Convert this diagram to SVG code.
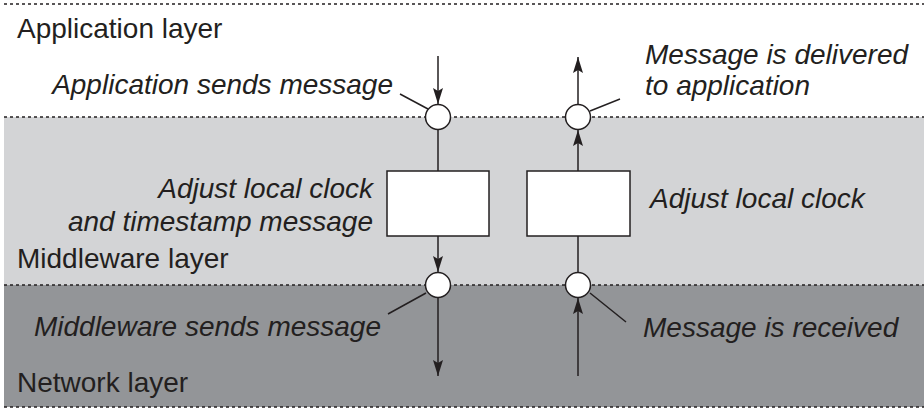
<svg xmlns="http://www.w3.org/2000/svg" width="924" height="412" viewBox="0 0 924 412">
<style>
.lbl{font-family:"Liberation Sans",Arial,sans-serif;font-size:28px;fill:#231f20}
.it{font-style:italic}
.dash{stroke:#231f20;stroke-width:1.5;stroke-dasharray:3 3;fill:none}
.ln{stroke:#231f20;stroke-width:1.5;fill:none}
.box{fill:#fff;stroke:#231f20;stroke-width:1.5}
.circ{fill:#fff;stroke:#231f20;stroke-width:1.5}
</style>
<defs>
<marker id="ah" viewBox="0 0 16 10" refX="16" refY="5" markerWidth="16" markerHeight="10" markerUnits="userSpaceOnUse" orient="auto">
<path d="M0,0 L16,5 L0,10 L3,5 z" fill="#231f20"/>
</marker>
</defs>
<rect width="924" height="412" fill="#fff"/>
<g id="bands">
<rect x="4" y="117" width="920" height="168" fill="#d3d4d6"/>
<rect x="4" y="285" width="920" height="122" fill="#939598"/>
<line class="dash" x1="4" y1="4" x2="924" y2="4"/>
<line class="dash" x1="4" y1="117" x2="924" y2="117"/>
<line class="dash" x1="4" y1="285" x2="924" y2="285"/>
<line class="dash" x1="4" y1="407" x2="924" y2="407"/>
</g>
<g id="layer-labels">
<text class="lbl" x="17" y="38">Application layer</text>
<text class="lbl" x="17" y="268">Middleware layer</text>
<text class="lbl" x="17" y="392">Network layer</text>
</g>
<g id="connectors">
<line class="ln" x1="438" y1="56" x2="438" y2="104" marker-end="url(#ah)"/>
<line class="ln" x1="438" y1="130" x2="438" y2="171"/>
<line class="ln" x1="438" y1="236" x2="438" y2="272" marker-end="url(#ah)"/>
<line class="ln" x1="438" y1="298" x2="438" y2="376" marker-end="url(#ah)"/>
<line class="ln" x1="578" y1="376" x2="578" y2="298" marker-end="url(#ah)"/>
<line class="ln" x1="578" y1="272" x2="578" y2="236"/>
<line class="ln" x1="578" y1="171" x2="578" y2="130" marker-end="url(#ah)"/>
<line class="ln" x1="578" y1="104" x2="578" y2="57" marker-end="url(#ah)"/>
<line class="ln" x1="400" y1="94" x2="428" y2="109"/>
<line class="ln" x1="590" y1="111" x2="620" y2="99"/>
<line class="ln" x1="426" y1="293" x2="388" y2="314"/>
<line class="ln" x1="590" y1="293" x2="626" y2="322"/>
</g>
<g id="send-app-point">
<circle class="circ" cx="438" cy="117" r="12.5"/>
<text class="lbl it" x="393" y="94" text-anchor="end">Application sends message</text>
</g>
<g id="deliver-app-point">
<circle class="circ" cx="578" cy="117" r="12.5"/>
<text class="lbl it" x="645" y="64">Message is delivered</text>
<text class="lbl it" x="645" y="95">to application</text>
</g>
<g id="send-box">
<rect class="box" x="387" y="171" width="102" height="65"/>
<text class="lbl it" x="373" y="198" text-anchor="end">Adjust local clock</text>
<text class="lbl it" x="373" y="231" text-anchor="end">and timestamp message</text>
</g>
<g id="recv-box">
<rect class="box" x="527" y="171" width="103" height="65"/>
<text class="lbl it" x="650" y="208">Adjust local clock</text>
</g>
<g id="send-net-point">
<circle class="circ" cx="438" cy="285" r="12.5"/>
<text class="lbl it" x="381" y="336" text-anchor="end">Middleware sends message</text>
</g>
<g id="recv-net-point">
<circle class="circ" cx="578" cy="285" r="12.5"/>
<text class="lbl it" x="643" y="337">Message is received</text>
</g>
</svg>
